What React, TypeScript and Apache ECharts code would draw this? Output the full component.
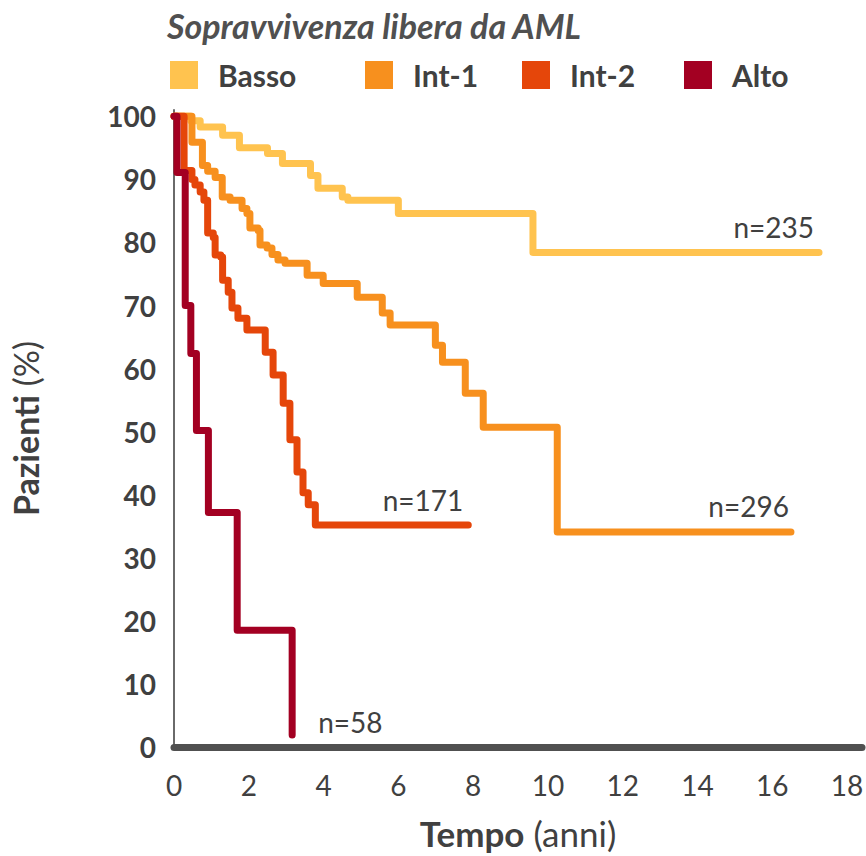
import React, { useEffect, useRef } from 'react';
import * as echarts from 'echarts';

const titleText = 'Sopravvivenza libera da AML';
const seriesNames = ['Basso', 'Int-1', 'Int-2', 'Alto'];
const seriesColors = ['#FFC34F', '#F7901E', '#E5460A', '#A30022'];
const nLabels = ['n=235', 'n=296', 'n=171', 'n=58'];

// Tempo (anni) at which each step happens, and Pazienti (%) after the step
const bassoTimes = [0, 0.45, 0.7, 1.3, 1.75, 2.5, 2.9, 3.65, 3.85, 4.5, 4.65, 6.0, 9.6, 17.25];
const bassoValues = [100, 99.3, 98.3, 97, 95, 94.1, 92.5, 90.6, 88.6, 87.2, 86.7, 84.6, 78.4, 78.4];

const int1Times = [0, 0.48, 0.76, 0.9, 1.1, 1.29, 1.5, 1.82, 1.95, 2.03, 2.25, 2.3, 2.49, 2.62, 2.78, 2.97, 3.56, 3.99, 4.9, 5.57, 5.78, 6.99, 7.18, 7.79, 8.27, 10.25, 16.5];
const int1Values = [100, 95.9, 92.2, 91.3, 90.3, 87.2, 86.7, 85.4, 84.6, 82.3, 81.9, 79.6, 79.1, 78.1, 77.2, 76.7, 74.8, 73.5, 71.3, 68.8, 66.9, 63.7, 61.0, 56.1, 50.7, 34.1, 34.1];

const int2Times = [0, 0.27, 0.48, 0.56, 0.7, 0.8, 0.9, 1.05, 1.1, 1.25, 1.3, 1.45, 1.55, 1.71, 1.95, 2.44, 2.65, 2.92, 3.1, 3.29, 3.45, 3.59, 3.78, 7.87];
const int2Values = [100, 91.4, 90, 89.1, 88, 86.7, 81.5, 80.8, 78, 77.7, 74, 72.1, 69.6, 68, 66.1, 62.6, 59, 54.5, 48.7, 43.6, 40.3, 38.4, 35.2, 35.2];

const altoTimes = [0, 0.08, 0.3, 0.45, 0.6, 0.92, 1.69, 3.16];
const altoValues = [100, 91.1, 70, 62.4, 50.2, 37.2, 18.5, 1.9];

const allTimes = [bassoTimes, int1Times, int2Times, altoTimes];
const allValues = [bassoValues, int1Values, int2Values, altoValues];

const FONT = 'Lato, "Open Sans", sans-serif';
const TEXT = '#404040';

export default function App() {
  const ref = useRef<HTMLDivElement>(null);
  useEffect(() => {
    if (!ref.current) return;
    const chart = echarts.init(ref.current, null, { renderer: 'svg' });
    const legendLeft = [170, 365, 522, 684];
    const labelOffsets: [number, number][] = [[-5, -26], [-2, -26], [-5, -25], [26, -13]];
    const labelAligns = ['right', 'right', 'right', 'left'];

    const series = seriesNames.map((name, i) => {
      const data = allTimes[i].map((t, j) => [t, allValues[i][j]]);
      const last = data[data.length - 1];
      return {
        name,
        type: 'line',
        step: 'end',
        showSymbol: false,
        symbol: 'none',
        color: seriesColors[i],
        lineStyle: { width: 7, color: seriesColors[i], join: 'round', cap: 'round' },
        itemStyle: { color: seriesColors[i] },
        data,
        markPoint: {
          silent: true,
          symbol: 'circle',
          symbolSize: 1,
          itemStyle: { color: 'rgba(0,0,0,0)' },
          data: [{ coord: last, value: nLabels[i] }],
          label: {
            show: true,
            position: 'inside',
            formatter: nLabels[i],
            align: labelAligns[i],
            verticalAlign: 'middle',
            offset: labelOffsets[i],
            fontFamily: FONT,
            fontSize: 28,
            color: TEXT,
          },
        },
      };
    });

    chart.setOption({
      animation: false,
      title: {
        text: titleText,
        left: 167,
        top: 8,
        padding: 0,
        textStyle: { fontFamily: FONT, fontStyle: 'italic', fontWeight: 'bold', fontSize: 34, color: '#505050' },
      },
      legend: seriesNames.map((n, i) => ({
        data: [n],
        left: legendLeft[i],
        top: 60,
        padding: 0,
        itemWidth: 28,
        itemHeight: 28,
        icon: 'rect',
        selectedMode: false,
        itemStyle: { borderWidth: 0 },
        textStyle: { fontFamily: FONT, fontWeight: 'bold', fontSize: 30, color: TEXT, padding: [0, 0, 0, 15] },
      })),
      grid: { left: 174, right: 4, top: 110, bottom: 109, outerBoundsMode: 'none', containLabel: false },
      xAxis: {
        type: 'value',
        min: 0,
        max: 18.4,
        interval: 2,
        axisLine: { show: true, lineStyle: { color: '#505050', width: 7 } },
        axisTick: { show: false },
        splitLine: { show: false },
        axisLabel: {
          formatter: (v: number) => (v % 2 === 0 ? String(v) : ''),
          fontFamily: FONT,
          fontSize: 28,
          color: TEXT,
          margin: 24,
        },
        name: '{b|Tempo} (anni)',
        nameLocation: 'middle',
        nameGap: 68,
        nameTextStyle: {
          fontFamily: FONT,
          fontSize: 35,
          color: TEXT,
          rich: { b: { fontFamily: FONT, fontSize: 35, fontWeight: 'bold', color: TEXT } },
        },
      },
      yAxis: {
        type: 'value',
        min: 0,
        max: 101,
        interval: 10,
        axisLine: { show: true, lineStyle: { color: '#6a6a6a', width: 2 } },
        axisTick: { show: false },
        splitLine: { show: false },
        axisLabel: {
          formatter: (v: number) => (v % 10 === 0 ? String(v) : ''),
          fontFamily: FONT,
          fontWeight: 'bold',
          fontSize: 28,
          color: TEXT,
          margin: 18,
        },
        name: '{b|Pazienti} (%)',
        nameLocation: 'middle',
        nameRotate: 90,
        nameGap: 132,
        nameTextStyle: {
          fontFamily: FONT,
          fontSize: 34,
          color: TEXT,
          rich: { b: { fontFamily: FONT, fontSize: 34, fontWeight: 'bold', color: TEXT } },
        },
      },
      series,
    });
    return () => chart.dispose();
  }, []);
  return <div ref={ref} style={{ width: 866, height: 856, position: 'absolute', left: 0, top: 0 }} />;
}
